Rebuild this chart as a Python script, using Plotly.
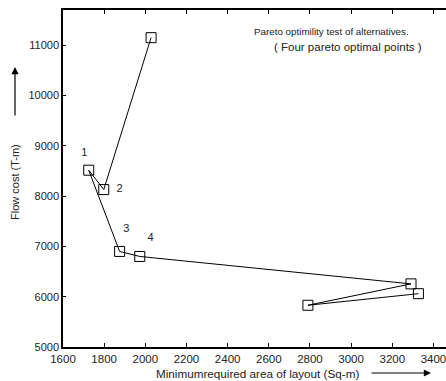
import plotly.graph_objects as go

# Data (path order as drawn)
area = [2028, 1798, 1725, 1875, 1973, 3291, 2790, 3327]
flow_cost = [11150, 8130, 8515, 6900, 6800, 6255, 5830, 6060]

# Pareto point labels
pt_labels = ["1", "2", "3", "4"]
pt_label_x = [1703, 1875, 1908, 2025]
pt_label_y = [8855, 8127, 7333, 7154]

x_ticks = [1600, 1800, 2000, 2200, 2400, 2600, 2800, 3000, 3200, 3400]
y_ticks = [5000, 6000, 7000, 8000, 9000, 10000, 11000]

FONT = "Liberation Sans, Arial, sans-serif"

fig = go.Figure()
fig.add_trace(go.Scatter(
    x=area, y=flow_cost, mode="lines+markers",
    line=dict(color="black", width=1),
    marker=dict(symbol="square-open", size=10, color="black", line=dict(width=1)),
    showlegend=False,
))
fig.add_trace(go.Scatter(
    x=pt_label_x, y=pt_label_y, mode="text", text=pt_labels,
    textfont=dict(family=FONT, size=11, color="#222"),
    showlegend=False,
))

W, H = 446, 381
L, R, T, B = 63, 0, 10, 34
pw, ph = W - L - R, H - T - B

def px(xp):
    return (xp - L) / pw

def py(yp):
    return (H - B - yp) / ph

annotations = [
    dict(text="Pareto optimility test of alternatives.", x=px(331.5), y=py(31),
         xref="paper", yref="paper", showarrow=False, xanchor="center", yanchor="middle",
         font=dict(family=FONT, size=9.8, color="#222")),
    dict(text="( Four pareto optimal points )", x=px(348), y=py(47),
         xref="paper", yref="paper", showarrow=False, xanchor="center", yanchor="middle",
         font=dict(family=FONT, size=11.5, color="#222")),
    dict(text="Minimumrequired area of layout (Sq-m)", x=px(257.5), y=py(373),
         xref="paper", yref="paper", showarrow=False, xanchor="center", yanchor="middle",
         font=dict(family=FONT, size=11.7, color="#222")),
    dict(text="Flow cost (T-m)", x=px(15), y=py(182), textangle=-90,
         xref="paper", yref="paper", showarrow=False, xanchor="center", yanchor="middle",
         font=dict(family=FONT, size=11, color="#222")),
    # x arrow
    dict(text="", x=px(431), y=py(373), xref="paper", yref="paper",
         ax=-61, ay=0, showarrow=True, arrowhead=2, arrowsize=1.2, arrowwidth=1.2,
         arrowcolor="black", standoff=0),
    # y arrow
    dict(text="", x=px(15), y=py(67), xref="paper", yref="paper",
         ax=0, ay=50, showarrow=True, arrowhead=2, arrowsize=1.2, arrowwidth=1.2,
         arrowcolor="black", standoff=0),
]

fig.update_layout(
    width=W, height=H,
    margin=dict(l=L, r=R, t=T, b=B, pad=0),
    paper_bgcolor="white", plot_bgcolor="white",
    font=dict(family=FONT, size=11, color="#222"),
    annotations=annotations,
    xaxis=dict(range=[1600, 3461], tickvals=x_ticks, ticktext=[str(v) for v in x_ticks],
               ticks="inside", ticklen=4, ticklabeloverflow="allow",
               tickcolor="black", showline=True, linecolor="black", linewidth=1.5,
               mirror="ticks", showgrid=False, zeroline=False,
               tickfont=dict(family=FONT, size=11.5, color="#222")),
    yaxis=dict(range=[5000, 11700], tickvals=y_ticks, ticktext=[str(v) for v in y_ticks],
               ticks="inside", ticklen=3, ticklabeloverflow="allow",
               tickcolor="black", showline=True, linecolor="black", linewidth=1.5,
               showgrid=False, zeroline=False,
               tickfont=dict(family=FONT, size=11, color="#222")),
)

fig.write_html("out.html")
